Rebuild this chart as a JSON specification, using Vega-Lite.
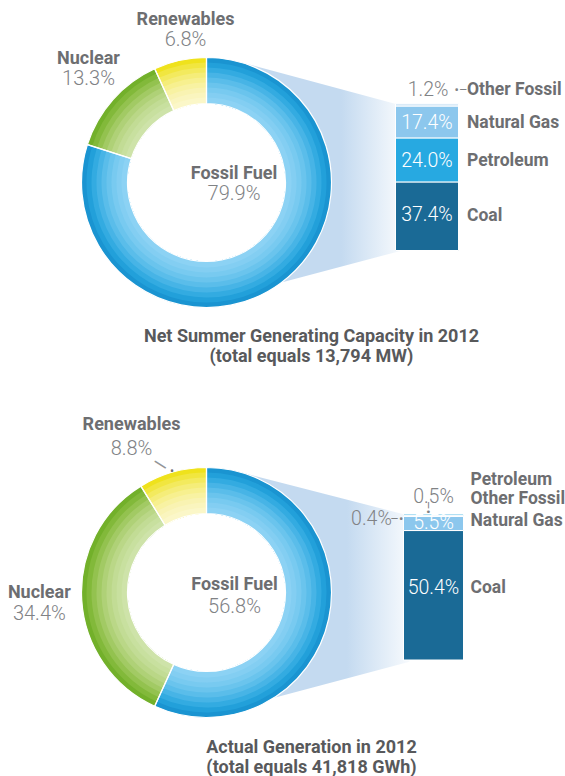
{
  "$schema": "https://vega.github.io/schema/vega-lite/v6.json",
  "background": "white",
  "padding": {"left": 7.5, "top": 10.5, "right": 0, "bottom": 0},
  "bounds": "flush",
  "spacing": 410,
  "config": {"view": {"stroke": null}, "text": {"font": "Roboto"}, "title": {"font": "Roboto"}},
  "datasets": {
    "capacity": [
      {"source": "Fossil Fuel", "value": 0.799},
      {"source": "Nuclear", "value": 0.133},
      {"source": "Renewables", "value": 0.068}
    ],
    "capacityFossil": [
      {"fuel": "Fossil Fuel", "source": "Coal", "value": 0.374},
      {"fuel": "Fossil Fuel", "source": "Petroleum", "value": 0.24},
      {"fuel": "Fossil Fuel", "source": "Natural Gas", "value": 0.174},
      {"fuel": "Fossil Fuel", "source": "Other Fossil", "value": 0.012}
    ],
    "generation": [
      {"source": "Fossil Fuel", "value": 0.568},
      {"source": "Nuclear", "value": 0.344},
      {"source": "Renewables", "value": 0.088}
    ],
    "generationFossil": [
      {"fuel": "Fossil Fuel", "source": "Coal", "value": 0.504},
      {"fuel": "Fossil Fuel", "source": "Natural Gas", "value": 0.055},
      {"fuel": "Fossil Fuel", "source": "Other Fossil", "value": 0.004},
      {"fuel": "Fossil Fuel", "source": "Petroleum", "value": 0.005}
    ]
  },
  "vconcat": [
    {
      "bounds": "flush",
      "spacing": 64,
      "hconcat": [
        {
          "width": 250,
          "height": 250,
          "data": {"name": "capacity"},
          "title": {"text": ["Net Summer Generating Capacity in 2012", "(total equals 13,794 MW)"], "orient": "bottom", "anchor": "middle", "frame": "group", "dx": 105, "offset": 18, "font": "Roboto", "fontSize": 18, "fontWeight": "bold", "color": "#58595b", "lineHeight": 20},
          "resolve": {"scale": {"color": "independent"}},
          "layer": [
            {"transform": [{"filter": "datum.source === 'Fossil Fuel'"}], "mark": {"type": "point", "shape": "M0.2583,-0.9661L1.56,-0.617L1.56,0.545L0.584,0.804L0.984,0Z", "size": 62500, "filled": true, "opacity": 1, "strokeWidth": 0, "fill": {"gradient": "linear", "x1": 0, "y1": 0, "x2": 1, "y2": 0, "stops": [{"offset": 0, "color": "#c4daf0"}, {"offset": 0.63, "color": "#c4daf0"}, {"offset": 1, "color": "#f7fafd"}]}}, "encoding": {}},
            {"mark": {"type": "arc", "radius": 125, "radius2": 79}, "encoding": {"theta": {"field": "value", "type": "quantitative", "stack": true}, "order": {"field": "source", "type": "ordinal"}, "color": {"field": "source", "type": "nominal", "legend": null, "scale": {"domain": ["Fossil Fuel", "Nuclear", "Renewables"], "range": ["#1a94d1", "#72b02a", "#efe21c"]}}}},
            {"mark": {"type": "arc", "radius": 120, "radius2": 79}, "encoding": {"theta": {"field": "value", "type": "quantitative", "stack": true}, "order": {"field": "source", "type": "ordinal"}, "color": {"field": "source", "type": "nominal", "legend": null, "scale": {"domain": ["Fossil Fuel", "Nuclear", "Renewables"], "range": ["#22a0da", "#82b93a", "#f1e63f"]}}}},
            {"mark": {"type": "arc", "radius": 115, "radius2": 79}, "encoding": {"theta": {"field": "value", "type": "quantitative", "stack": true}, "order": {"field": "source", "type": "ordinal"}, "color": {"field": "source", "type": "nominal", "legend": null, "scale": {"domain": ["Fossil Fuel", "Nuclear", "Renewables"], "range": ["#33abe1", "#93c24f", "#f3ea5e"]}}}},
            {"mark": {"type": "arc", "radius": 110, "radius2": 79}, "encoding": {"theta": {"field": "value", "type": "quantitative", "stack": true}, "order": {"field": "source", "type": "ordinal"}, "color": {"field": "source", "type": "nominal", "legend": null, "scale": {"domain": ["Fossil Fuel", "Nuclear", "Renewables"], "range": ["#47b4e6", "#a2ca64", "#f5ed79"]}}}},
            {"mark": {"type": "arc", "radius": 105, "radius2": 79}, "encoding": {"theta": {"field": "value", "type": "quantitative", "stack": true}, "order": {"field": "source", "type": "ordinal"}, "color": {"field": "source", "type": "nominal", "legend": null, "scale": {"domain": ["Fossil Fuel", "Nuclear", "Renewables"], "range": ["#5abdea", "#afd177", "#f7f08f"]}}}},
            {"mark": {"type": "arc", "radius": 100, "radius2": 79}, "encoding": {"theta": {"field": "value", "type": "quantitative", "stack": true}, "order": {"field": "source", "type": "ordinal"}, "color": {"field": "source", "type": "nominal", "legend": null, "scale": {"domain": ["Fossil Fuel", "Nuclear", "Renewables"], "range": ["#6ac4ed", "#bad787", "#f8f2a2"]}}}},
            {"mark": {"type": "arc", "radius": 95, "radius2": 79}, "encoding": {"theta": {"field": "value", "type": "quantitative", "stack": true}, "order": {"field": "source", "type": "ordinal"}, "color": {"field": "source", "type": "nominal", "legend": null, "scale": {"domain": ["Fossil Fuel", "Nuclear", "Renewables"], "range": ["#78caf0", "#c2dc95", "#f9f3b2"]}}}},
            {"mark": {"type": "arc", "radius": 90, "radius2": 79}, "encoding": {"theta": {"field": "value", "type": "quantitative", "stack": true}, "order": {"field": "source", "type": "ordinal"}, "color": {"field": "source", "type": "nominal", "legend": null, "scale": {"domain": ["Fossil Fuel", "Nuclear", "Renewables"], "range": ["#83cef2", "#c8e09f", "#faf5be"]}}}},
            {"mark": {"type": "arc", "radius": 85, "radius2": 79}, "encoding": {"theta": {"field": "value", "type": "quantitative", "stack": true}, "order": {"field": "source", "type": "ordinal"}, "color": {"field": "source", "type": "nominal", "legend": null, "scale": {"domain": ["Fossil Fuel", "Nuclear", "Renewables"], "range": ["#8cd2f4", "#cee3a9", "#fbf7c8"]}}}},
            {"mark": {"type": "arc", "radius": 125, "radius2": 79, "fillOpacity": 0, "stroke": "white", "strokeWidth": 1.2}, "encoding": {"theta": {"field": "value", "type": "quantitative", "stack": true}, "order": {"field": "source", "type": "ordinal"}}},
            {"mark": {"type": "text", "font": "Roboto", "fontWeight": "bold", "fontSize": 18, "color": "#6d6e71",
              "radius": {"expr": "datum.source === 'Fossil Fuel' ? 0 : datum.source === 'Nuclear' ? 166 : 158"},
              "dx": {"expr": "datum.source === 'Fossil Fuel' ? 27.5 : datum.source === 'Nuclear' ? 6.2 : 12.5"},
              "dy": {"expr": "datum.source === 'Fossil Fuel' ? -9 : datum.source === 'Nuclear' ? -13.4 : -8.1"}},
             "encoding": {"theta": {"field": "value", "type": "quantitative", "stack": true}, "order": {"field": "source", "type": "ordinal"}, "detail": {"field": "source", "type": "nominal"}, "text": {"field": "source", "type": "nominal"}}},
            {"mark": {"type": "text", "font": "Roboto", "fontWeight": 300, "fontSize": 20, "color": "#808285",
              "radius": {"expr": "datum.source === 'Fossil Fuel' ? 0 : datum.source === 'Nuclear' ? 166 : 158"},
              "dx": {"expr": "datum.source === 'Fossil Fuel' ? 27.5 : datum.source === 'Nuclear' ? 6.2 : 12.5"},
              "dy": {"expr": "datum.source === 'Fossil Fuel' ? 11.5 : datum.source === 'Nuclear' ? 7.1 : 12.4"}},
             "encoding": {"theta": {"field": "value", "type": "quantitative", "stack": true}, "order": {"field": "source", "type": "ordinal"}, "detail": {"field": "source", "type": "nominal"}, "text": {"field": "value", "type": "quantitative", "format": ".1%"}}}
          ]
        },
        {
          "width": 63,
          "height": 250,
          "data": {"name": "capacityFossil"},
          "encoding": {"x": {"field": "fuel", "type": "nominal", "axis": null, "scale": {"paddingInner": 0, "paddingOuter": 0}}},
          "layer": [
            {"mark": {"type": "bar", "stroke": "white", "strokeWidth": 1},
             "encoding": {"y": {"field": "value", "type": "quantitative", "stack": "zero", "axis": null, "scale": {"domain": [-0.3108, 1.0525], "nice": false, "zero": false}},
              "order": {"field": "value", "type": "quantitative", "sort": "descending"},
              "color": {"field": "source", "type": "nominal", "legend": null, "scale": {"domain": ["Coal", "Petroleum", "Natural Gas", "Other Fossil"], "range": ["#1a6a96", "#27a9e1", "#8cc7ed", "#cbe3f6"]}}}},
            {"mark": {"type": "text", "font": "Roboto", "fontWeight": 300, "fontSize": 19.5,
              "align": {"expr": "datum.source === 'Other Fossil' ? 'right' : 'center'"},
              "dx": {"expr": "datum.source === 'Other Fossil' ? 21.5 : 0"},
              "dy": {"expr": "datum.source === 'Coal' ? -1 : datum.source === 'Petroleum' ? 1.5 : datum.source === 'Natural Gas' ? 1 : -15.4"}},
             "encoding": {"y": {"field": "value", "type": "quantitative", "stack": "zero", "bandPosition": 0.5, "axis": null},
              "order": {"field": "value", "type": "quantitative", "sort": "descending"},
              "detail": {"field": "source", "type": "nominal"},
              "text": {"field": "value", "type": "quantitative", "format": ".1%"},
              "color": {"condition": {"test": "datum.source === 'Other Fossil'", "value": "#808285"}, "value": "#ffffff"}}},
            {"mark": {"type": "text", "font": "Roboto", "fontWeight": "bold", "fontSize": 17.5, "color": "#6d6e71", "align": "left", "dx": 40,
              "dy": {"expr": "datum.source === 'Coal' ? -0.5 : datum.source === 'Petroleum' ? 1.5 : datum.source === 'Natural Gas' ? 1 : -15.4"}},
             "encoding": {"y": {"field": "value", "type": "quantitative", "stack": "zero", "bandPosition": 0.5, "axis": null},
              "order": {"field": "value", "type": "quantitative", "sort": "descending"},
              "detail": {"field": "source", "type": "nominal"},
              "text": {"field": "source", "type": "nominal"}}},
            {"mark": {"type": "text", "font": "Roboto", "fontSize": 13, "color": "#808285", "align": "center", "dx": 34, "dy": -15.4},
             "encoding": {"y": {"field": "value", "type": "quantitative", "stack": "zero", "bandPosition": 0.5, "axis": null},
              "order": {"field": "value", "type": "quantitative", "sort": "descending"},
              "detail": {"field": "source", "type": "nominal"},
              "text": {"condition": {"test": "datum.source === 'Other Fossil'", "value": "•–"}, "value": ""}}}
          ]
        }
      ]
    },
    {
      "bounds": "flush",
      "spacing": 72,
      "hconcat": [
        {
          "width": 250,
          "height": 250,
          "data": {"name": "generation"},
          "title": {"text": ["Actual Generation in 2012", "(total equals 41,818 GWh)"], "orient": "bottom", "anchor": "middle", "frame": "group", "dx": 105, "offset": 19, "font": "Roboto", "fontSize": 18, "fontWeight": "bold", "color": "#58595b", "lineHeight": 20},
          "resolve": {"scale": {"color": "independent"}},
          "layer": [
            {"transform": [{"filter": "datum.source === 'Fossil Fuel'"}], "mark": {"type": "point", "shape": "M0.2339,-0.9723L1.624,-0.614L1.624,0.554L0.52,0.848L0.984,0Z", "size": 62500, "filled": true, "opacity": 1, "strokeWidth": 0, "fill": {"gradient": "linear", "x1": 0, "y1": 0, "x2": 1, "y2": 0, "stops": [{"offset": 0, "color": "#c4daf0"}, {"offset": 0.64, "color": "#c4daf0"}, {"offset": 1, "color": "#f7fafd"}]}}, "encoding": {}},
            {"mark": {"type": "arc", "radius": 125, "radius2": 79}, "encoding": {"theta": {"field": "value", "type": "quantitative", "stack": true}, "order": {"field": "source", "type": "ordinal"}, "color": {"field": "source", "type": "nominal", "legend": null, "scale": {"domain": ["Fossil Fuel", "Nuclear", "Renewables"], "range": ["#1a94d1", "#72b02a", "#efe21c"]}}}},
            {"mark": {"type": "arc", "radius": 120, "radius2": 79}, "encoding": {"theta": {"field": "value", "type": "quantitative", "stack": true}, "order": {"field": "source", "type": "ordinal"}, "color": {"field": "source", "type": "nominal", "legend": null, "scale": {"domain": ["Fossil Fuel", "Nuclear", "Renewables"], "range": ["#22a0da", "#82b93a", "#f1e63f"]}}}},
            {"mark": {"type": "arc", "radius": 115, "radius2": 79}, "encoding": {"theta": {"field": "value", "type": "quantitative", "stack": true}, "order": {"field": "source", "type": "ordinal"}, "color": {"field": "source", "type": "nominal", "legend": null, "scale": {"domain": ["Fossil Fuel", "Nuclear", "Renewables"], "range": ["#33abe1", "#93c24f", "#f3ea5e"]}}}},
            {"mark": {"type": "arc", "radius": 110, "radius2": 79}, "encoding": {"theta": {"field": "value", "type": "quantitative", "stack": true}, "order": {"field": "source", "type": "ordinal"}, "color": {"field": "source", "type": "nominal", "legend": null, "scale": {"domain": ["Fossil Fuel", "Nuclear", "Renewables"], "range": ["#47b4e6", "#a2ca64", "#f5ed79"]}}}},
            {"mark": {"type": "arc", "radius": 105, "radius2": 79}, "encoding": {"theta": {"field": "value", "type": "quantitative", "stack": true}, "order": {"field": "source", "type": "ordinal"}, "color": {"field": "source", "type": "nominal", "legend": null, "scale": {"domain": ["Fossil Fuel", "Nuclear", "Renewables"], "range": ["#5abdea", "#afd177", "#f7f08f"]}}}},
            {"mark": {"type": "arc", "radius": 100, "radius2": 79}, "encoding": {"theta": {"field": "value", "type": "quantitative", "stack": true}, "order": {"field": "source", "type": "ordinal"}, "color": {"field": "source", "type": "nominal", "legend": null, "scale": {"domain": ["Fossil Fuel", "Nuclear", "Renewables"], "range": ["#6ac4ed", "#bad787", "#f8f2a2"]}}}},
            {"mark": {"type": "arc", "radius": 95, "radius2": 79}, "encoding": {"theta": {"field": "value", "type": "quantitative", "stack": true}, "order": {"field": "source", "type": "ordinal"}, "color": {"field": "source", "type": "nominal", "legend": null, "scale": {"domain": ["Fossil Fuel", "Nuclear", "Renewables"], "range": ["#78caf0", "#c2dc95", "#f9f3b2"]}}}},
            {"mark": {"type": "arc", "radius": 90, "radius2": 79}, "encoding": {"theta": {"field": "value", "type": "quantitative", "stack": true}, "order": {"field": "source", "type": "ordinal"}, "color": {"field": "source", "type": "nominal", "legend": null, "scale": {"domain": ["Fossil Fuel", "Nuclear", "Renewables"], "range": ["#83cef2", "#c8e09f", "#faf5be"]}}}},
            {"mark": {"type": "arc", "radius": 85, "radius2": 79}, "encoding": {"theta": {"field": "value", "type": "quantitative", "stack": true}, "order": {"field": "source", "type": "ordinal"}, "color": {"field": "source", "type": "nominal", "legend": null, "scale": {"domain": ["Fossil Fuel", "Nuclear", "Renewables"], "range": ["#8cd2f4", "#cee3a9", "#fbf7c8"]}}}},
            {"mark": {"type": "arc", "radius": 125, "radius2": 79, "fillOpacity": 0, "stroke": "white", "strokeWidth": 1.2}, "encoding": {"theta": {"field": "value", "type": "quantitative", "stack": true}, "order": {"field": "source", "type": "ordinal"}}},
            {"mark": {"type": "text", "font": "Roboto", "fontSize": 20, "color": "#939598", "radius": 135, "angle": 32.3, "dx": -6.9, "dy": 7.9},
             "encoding": {"theta": {"field": "value", "type": "quantitative", "stack": true}, "order": {"field": "source", "type": "ordinal"}, "detail": {"field": "source", "type": "nominal"}, "text": {"condition": {"test": "datum.source === 'Renewables'", "value": "—"}, "value": ""}}},
            {"mark": {"type": "text", "font": "Roboto", "fontSize": 12, "color": "#6d6e71", "radius": 126},
             "encoding": {"theta": {"field": "value", "type": "quantitative", "stack": true}, "order": {"field": "source", "type": "ordinal"}, "detail": {"field": "source", "type": "nominal"}, "text": {"condition": {"test": "datum.source === 'Renewables'", "value": "•"}, "value": ""}}},
            {"mark": {"type": "text", "font": "Roboto", "fontWeight": "bold", "fontSize": 18, "color": "#6d6e71",
              "radius": {"expr": "datum.source === 'Fossil Fuel' ? 0 : datum.source === 'Nuclear' ? 168 : 174"},
              "dx": {"expr": "datum.source === 'Fossil Fuel' ? 28 : datum.source === 'Nuclear' ? 0.5 : -27.5"},
              "dy": {"expr": "datum.source === 'Fossil Fuel' ? -7.7 : datum.source === 'Nuclear' ? -9.6 : -0.6"}},
             "encoding": {"theta": {"field": "value", "type": "quantitative", "stack": true}, "order": {"field": "source", "type": "ordinal"}, "detail": {"field": "source", "type": "nominal"}, "text": {"field": "source", "type": "nominal"}}},
            {"mark": {"type": "text", "font": "Roboto", "fontWeight": 300, "fontSize": 20, "color": "#808285",
              "radius": {"expr": "datum.source === 'Fossil Fuel' ? 0 : datum.source === 'Nuclear' ? 168 : 174"},
              "dx": {"expr": "datum.source === 'Fossil Fuel' ? 28 : datum.source === 'Nuclear' ? 0.5 : -27.5"},
              "dy": {"expr": "datum.source === 'Fossil Fuel' ? 14.8 : datum.source === 'Nuclear' ? 11.4 : 23.4"}},
             "encoding": {"theta": {"field": "value", "type": "quantitative", "stack": true}, "order": {"field": "source", "type": "ordinal"}, "detail": {"field": "source", "type": "nominal"}, "text": {"field": "value", "type": "quantitative", "format": ".1%"}}}
          ]
        },
        {
          "width": 60,
          "height": 250,
          "data": {"name": "generationFossil"},
          "encoding": {"x": {"field": "fuel", "type": "nominal", "axis": null, "scale": {"paddingInner": 0, "paddingOuter": 0}}},
          "layer": [
            {"mark": {"type": "bar", "stroke": "white", "strokeWidth": 1},
             "encoding": {"y": {"field": "value", "type": "quantitative", "stack": "zero", "axis": null, "scale": {"domain": [-0.2238, 0.7494], "nice": false, "zero": false}},
              "order": {"field": "source", "type": "ordinal", "sort": "ascending"},
              "color": {"field": "source", "type": "nominal", "legend": null, "scale": {"domain": ["Coal", "Natural Gas", "Other Fossil", "Petroleum"], "range": ["#1a6a96", "#27a9e1", "#cbe3f6", "#a8d4f1"]}}}},
            {"mark": {"type": "text", "font": "Roboto", "fontWeight": 300, "fontSize": 19.5,
              "align": {"expr": "datum.source === 'Other Fossil' ? 'right' : 'center'"},
              "dx": {"expr": "datum.source === 'Other Fossil' ? -41.7 : 0"},
              "dy": {"expr": "datum.source === 'Coal' ? -7.1 : datum.source === 'Natural Gas' ? 0 : datum.source === 'Other Fossil' ? 3.6 : -18.2"}},
             "encoding": {"y": {"field": "value", "type": "quantitative", "stack": "zero", "bandPosition": 0.5, "axis": null},
              "order": {"field": "source", "type": "ordinal", "sort": "ascending"},
              "detail": {"field": "source", "type": "nominal"},
              "text": {"field": "value", "type": "quantitative", "format": ".1%"},
              "color": {"condition": {"test": "datum.source === 'Other Fossil' || datum.source === 'Petroleum'", "value": "#808285"}, "value": "#ffffff"}}},
            {"mark": {"type": "text", "font": "Roboto", "fontWeight": "bold", "fontSize": 17.5, "color": "#6d6e71", "align": "left", "dx": 37,
              "dy": {"expr": "datum.source === 'Coal' ? -6.8 : datum.source === 'Natural Gas' ? -2 : datum.source === 'Other Fossil' ? -16.4 : -35.2"}},
             "encoding": {"y": {"field": "value", "type": "quantitative", "stack": "zero", "bandPosition": 0.5, "axis": null},
              "order": {"field": "source", "type": "ordinal", "sort": "ascending"},
              "detail": {"field": "source", "type": "nominal"},
              "text": {"field": "source", "type": "nominal"}}},
            {"mark": {"type": "text", "font": "Roboto", "fontSize": 13, "color": "#808285", "align": "center", "dx": -36.7, "dy": 3},
             "encoding": {"y": {"field": "value", "type": "quantitative", "stack": "zero", "bandPosition": 0.5, "axis": null},
              "order": {"field": "source", "type": "ordinal", "sort": "ascending"},
              "detail": {"field": "source", "type": "nominal"},
              "text": {"condition": {"test": "datum.source === 'Other Fossil'", "value": "–•"}, "value": ""}}},
            {"mark": {"type": "text", "font": "Roboto", "fontSize": 13, "color": "#808285", "align": "center", "angle": 90, "dx": -7.2, "dy": 6},
             "encoding": {"y": {"field": "value", "type": "quantitative", "stack": "zero", "bandPosition": 0.5, "axis": null},
              "order": {"field": "source", "type": "ordinal", "sort": "ascending"},
              "detail": {"field": "source", "type": "nominal"},
              "text": {"condition": {"test": "datum.source === 'Petroleum'", "value": "–•"}, "value": ""}}}
          ]
        }
      ]
    }
  ]
}
